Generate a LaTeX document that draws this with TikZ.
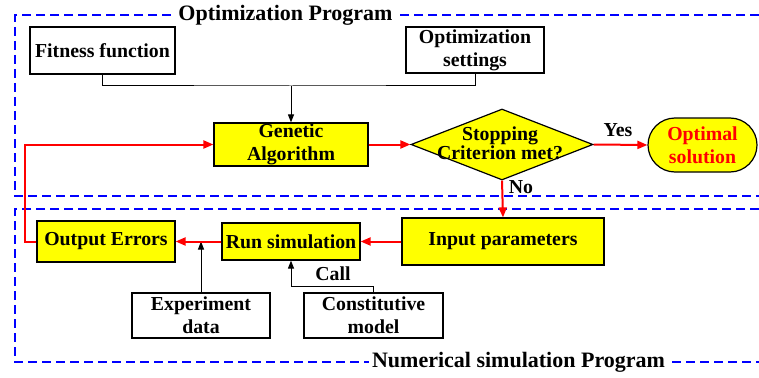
\documentclass[tikz,border=0pt]{standalone}
\usepackage{fontspec}
\setmainfont{Liberation Serif}
\usetikzlibrary{arrows.meta,shapes.geometric,shapes.misc}
\definecolor{myyellow}{RGB}{255,255,0}
\definecolor{myred}{RGB}{255,0,0}
\definecolor{myblue}{RGB}{0,0,255}
\tikzset{
  txt/.style={font=\fontsize{19.8}{23}\selectfont\bfseries},
  box/.style={txt,draw=black,line width=1.2pt,inner sep=0pt,align=center},
  ybox/.style={box,fill=myyellow},
  wbox/.style={box,fill=white},
  redarrow/.style={draw=myred,line width=2pt,-{Triangle[length=10pt,width=8pt]}},
  blkarrow/.style={draw=black,line width=1pt,-{Triangle[length=8pt,width=6pt]}},
  blkline/.style={draw=black,line width=1pt},
  frame/.style={draw=myblue,line width=2pt,dash pattern=on 9pt off 5pt},
  title/.style={font=\fontsize{22}{24}\selectfont\bfseries,fill=white,inner sep=3pt},
}
\begin{document}
\begin{tikzpicture}[x=1pt,y=-1pt]
\useasboundingbox (0,0) rectangle (759,377);
% frames
\draw[frame] (759,15) -- (15,15) -- (15,196) -- (759,196);
\draw[frame] (759,209) -- (15,209) -- (15,362) -- (759,362);
\node[title] (t1) at (285.5,15) {Optimization Program};
\node[title] (t2) at (518.5,362) {Numerical simulation Program};
% nodes
\node[wbox,minimum width=145pt,minimum height=47pt] (fit) at (102.5,50.5) {Fitness function};
\node[wbox,minimum width=138pt,minimum height=46pt] (set) at (475,50) {Optimization\\settings};
\node[ybox,minimum width=154pt,minimum height=43pt] (ga) at (291,144.5) {Genetic\\Algorithm};
\node[diamond,draw=black,line width=1.2pt,fill=myyellow,minimum width=182pt,minimum height=71pt,inner sep=0pt] (stop) at (502,144.5) {};
\node[txt,align=center,font=\fontsize{19.8}{17}\selectfont\bfseries] (stoptxt) at (500,143) {Stopping\\Criterion met?};
\node[ybox,rounded rectangle,minimum width=109pt,minimum height=54pt,text=myred] (opt) at (702.5,145) {Optimal\\solution};
\node[ybox,minimum width=202pt,minimum height=47pt] (inp) at (503,241.5) {Input parameters};
\node[ybox,minimum width=138pt,minimum height=37pt] (run) at (291,241.5) {Run simulation};
\node[ybox,minimum width=138pt,minimum height=41pt] (oe) at (106,241.5) {Output Errors};
\node[wbox,minimum width=138pt,minimum height=45pt] (exp) at (201,315.5) {Experiment\\data};
\node[wbox,minimum width=139pt,minimum height=45pt] (con) at (373.5,315.5) {Constitutive\\model};
% coordinates
\coordinate (j) at (291,86);
\coordinate (ej) at (201,241.5);
\coordinate (cj) at (291,286);
\coordinate (lft) at (25,241.5);
% black connectors
\draw[blkline] (fit.south) |- (j) -| (set.south);
\draw[blkarrow] (j) -- (ga.north);
\draw[blkarrow] (exp.north) -- (ej);
\draw[blkarrow] (con.north) |- (cj) -- (run.south);
% red connectors
\draw[redarrow] (ga.east) -- (stop.west);
\draw[redarrow] (stop.east) -- (opt.west);
\draw[redarrow] (stop.south) -- (inp.north);
\draw[redarrow] (inp.west) -- (run.east);
\draw[redarrow] (run.west) -- (oe.east);
\draw[redarrow] (oe.west) -- (lft) |- (ga.west);
% labels
\node[txt] (yes) at (618,130) {Yes};
\node[txt] (no) at (521,187) {No};
\node[txt] (call) at (333,274) {Call};
\end{tikzpicture}
\end{document}
